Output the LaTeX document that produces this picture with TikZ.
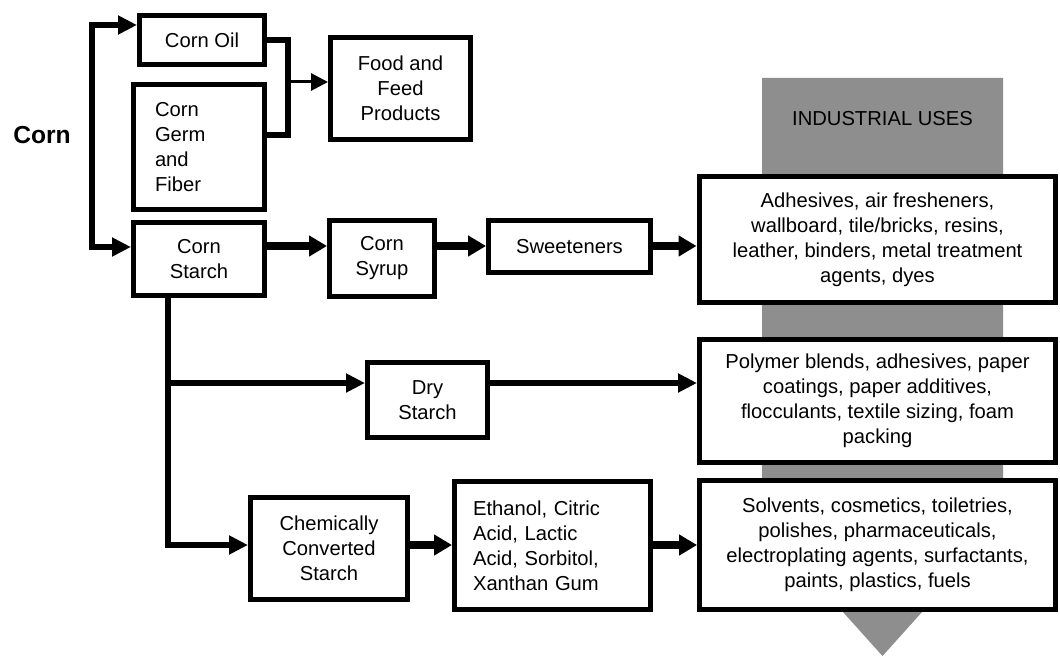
\documentclass[tikz,border=0pt]{standalone}
\usepackage{fontspec}
\setmainfont{Liberation Sans}
\usepackage{tikz}
\usetikzlibrary{arrows.meta}
\usetikzlibrary{calc}
\definecolor{bandgray}{HTML}{8E8E8E}

\begin{document}
\begin{tikzpicture}[x=0.02cm, y=-0.02cm,
    box/.style={draw, line width=0.1cm, fill=white, align=center, inner sep=0pt,
        font=\fontsize{11.5}{14.2}\selectfont},
    flow/.style={line width=0.16cm, -{Triangle[length=0.36cm,width=0.4cm]}},
    branch/.style={line width=0.11cm, -{Triangle[length=0.38cm,width=0.36cm]}},
    feed/.style={line width=0.06cm, -{Triangle[length=0.34cm,width=0.34cm]}},
    link/.style={line width=0.11cm}]
            \useasboundingbox (0,0) rectangle (1060,655);%
            \clip (0,0) rectangle (1060,655);%

            % Drawing the grey band of industrial uses
            \fill [bandgray] (762,78) -- (1003,78) -- (1003,522) -- (882.5,656) -- (762,522) -- cycle;%
            \node [font=\fontsize{11.5}{14.2}\selectfont] (band) at (882.5,119) {INDUSTRIAL USES};%

            % Marking the raw material
            \node [font=\fontsize{14}{16}\selectfont\bfseries] (corn) at (42,135) {Corn};%

            % Marking first stage boxes
            \node [box, minimum width=2.5cm, minimum height=0.98cm] (oil) at (202,40) {Corn Oil};%
            \node [box, align=left, text width=1.76cm, inner xsep=0.43cm, minimum height=2.5cm] (germ) at (199,147) {Corn\\Germ\\and\\Fiber};%
            \node [box, minimum width=2.8cm, minimum height=2.04cm] (food) at (400.5,88.5) {Food and\\Feed\\Products};%
            \node [box, minimum width=2.62cm, minimum height=1.46cm] (starch) at (199,259) {Corn\\Starch};%

            % Marking starch products
            \node [box, minimum width=2.1cm, minimum height=1.52cm] (syrup) at (382,258.5) {Corn\\Syrup};%
            \node [box, minimum width=3.24cm, minimum height=1.04cm] (sweet) at (569.5,246.5) {Sweeteners};%
            \node [box, minimum width=2.4cm, minimum height=1.5cm] (dry) at (427.5,400) {Dry\\Starch};%
            \node [box, minimum width=3.14cm, minimum height=2.04cm] (chem) at (329,548.5) {Chemically\\Converted\\Starch};%
            \node [box, align=left, text width=3.18cm, inner xsep=0.37cm, minimum height=2.56cm] (eth) at (552.5,545.5) {Ethanol, Citric\\Acid, Lactic\\Acid, Sorbitol,\\Xanthan Gum};%

            % Marking industrial use boxes
            \node [box, minimum width=7.14cm, minimum height=2.52cm] (adh) at (877.5,239.5) {Adhesives, air fresheners,\\wallboard, tile/bricks, resins,\\leather, binders, metal treatment\\agents, dyes};%
            \node [box, minimum width=7.12cm, minimum height=2.46cm] (poly) at (877.5,401) {Polymer blends, adhesives, paper\\coatings, paper additives,\\flocculants, textile sizing, foam\\packing};%
            \node [box, minimum width=7.12cm, minimum height=2.58cm] (solv) at (877.5,545) {Solvents, cosmetics, toiletries,\\polishes, pharmaceuticals,\\electroplating agents, surfactants,\\paints, plastics, fuels};%

            % Drawing the split after corn
            \coordinate (split) at (92,135);%
            \draw [branch] (split) |- ([yshift=0.3cm]oil.west);%
            \draw [branch] (split) |- ([yshift=0.24cm]starch.west);%

            % Drawing oil and germ to food
            \coordinate (merge) at (288,82);%
            \draw [link] (oil.east) -| (merge) |- ([yshift=0.24cm]germ.east);%
            \draw [feed] (merge) -- (merge -| food.west);%

            % Drawing the sweetener line
            \coordinate (rowa) at (0,246);%
            \draw [flow] (starch.east |- rowa) -- (syrup.west |- rowa);%
            \draw [flow] (syrup.east |- rowa) -- (sweet.west |- rowa);%
            \draw [flow] (sweet.east |- rowa) -- (adh.west |- rowa);%

            % Drawing the starch trunk
            \coordinate (rowb) at (168,383);%
            \coordinate (rowc) at (168,545);%
            \draw [branch] (starch.south -| rowb) |- (chem.west |- rowc);%
            \draw [branch] (rowb) -- (dry.west |- rowb);%
            \draw [branch] (dry.east |- rowb) -- (poly.west |- rowb);%
            \draw [flow] (chem.east |- rowc) -- (eth.west |- rowc);%
            \draw [flow] (eth.east |- rowc) -- (solv.west |- rowc);%
\end{tikzpicture}
\end{document}
